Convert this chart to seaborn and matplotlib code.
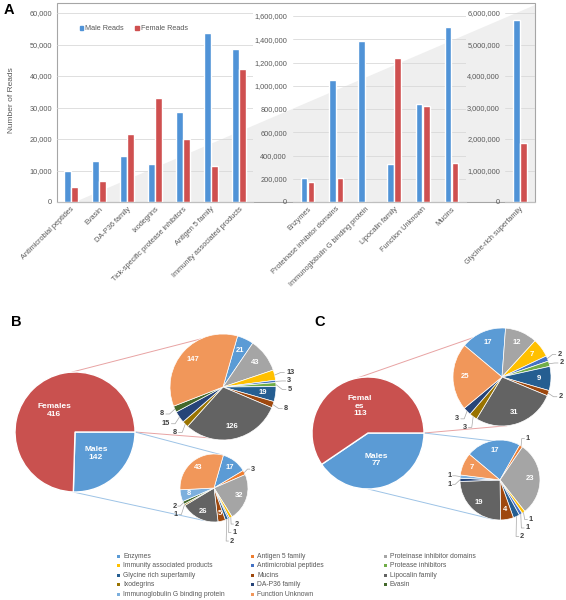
import numpy as np
import pandas as pd
import seaborn as sns
import matplotlib.pyplot as plt
from matplotlib.patches import Polygon, Rectangle, Patch
from matplotlib.ticker import FuncFormatter

sns.set_theme(style="white")
plt.rcParams['font.family'] = ['Liberation Sans', 'DejaVu Sans']

# ---- panel A data (reads) ----
g1_cats = ['Antimicrobial peptides', 'Evasin', 'DA-P36 family', 'Ixodegrins',
           'Tick-specific protease inhibitors', 'Antigen 5 family', 'Immunity associated products']
g1_male = [10000, 13000, 14600, 12200, 28600, 53800, 48600]
g1_female = [4700, 6700, 21600, 32900, 20000, 11400, 42200]

g2_cats = ['Enzymes', 'Proteinase inhibitor domains', 'Immunoglobulin G binding protein',
           'Lipocalin family', 'Function Unknown', 'Mucins']
g2_male = [206000, 1047000, 1382000, 329000, 844000, 1502000]
g2_female = [175000, 206000, 0, 1242000, 827000, 335000]

g3_cats = ['Glycine-rich superfamily']
g3_male = [5770000]
g3_female = [1880000]

# ---- panels B / C data (contig counts) ----
families = ['Enzymes', 'Antigen 5 family', 'Proteinase inhibitor domains',
            'Immunity associated products', 'Antimicrobial peptides', 'Protease inhibitors',
            'Glycine rich superfamily', 'Mucins', 'Lipocalin family', 'Ixodegrins',
            'DA-P36 family', 'Evasin', 'Immunoglobulin G binding protein', 'Function Unknown']
family_colors = ['#5B9BD5', '#ED7D31', '#A5A5A5', '#FFC000', '#4472C4', '#70AD47',
                 '#255E91', '#9E480E', '#636363', '#997300', '#264478', '#43682B',
                 '#7CAFDD', '#F1975A']
b_female = [21, 0, 43, 13, 3, 5, 19, 8, 126, 8, 15, 8, 0, 147]
b_male = [17, 3, 32, 2, 1, 0, 2, 5, 26, 1, 0, 2, 8, 43]
c_female = [17, 0, 12, 7, 2, 2, 9, 2, 31, 3, 3, 0, 0, 25]
c_male = [17, 1, 23, 1, 1, 0, 2, 4, 19, 0, 1, 0, 1, 7]

male_col = '#5093D7'
female_col = '#CF5050'
big_male_col = '#5B9BD5'
big_female_col = '#C9514F'
txt_col = '#595959'

W, H = 566, 600
fig = plt.figure(figsize=(W / 100, H / 100), dpi=100)


def px_axes(x0, y0, x1, y1, z=1):
    ax = fig.add_axes([x0 / W, 1 - y1 / H, (x1 - x0) / W, (y1 - y0) / H])
    ax.set_zorder(z)
    return ax


ov = px_axes(0, 0, W, H, z=0)
ov.set_xlim(0, W)
ov.set_ylim(H, 0)
ov.axis('off')

# panel A background: frame + grey wedge
ov.add_patch(Polygon([(75, 202), (535, 5), (535, 202)], closed=True, color='#efefef', lw=0))
ov.add_patch(Rectangle((57, 3), 478, 199, fill=False, ec='#a6a6a6', lw=0.8))
ov.text(12, 100, 'Number of Reads', rotation=90, ha='center', va='center', fontsize=6, color=txt_col)


def bar_group(ax, cats, male, female, ymax, step, pad):
    df = pd.DataFrame({'category': cats * 2,
                       'sex': ['Male Reads'] * len(cats) + ['Female Reads'] * len(cats),
                       'reads': male + female})
    sns.barplot(data=df, x='category', y='reads', hue='sex', palette=[male_col, female_col],
                width=0.5, gap=0.1, saturation=1, ax=ax, legend=False)
    ax.set_facecolor('none')
    ax.set_xlim(-0.5, len(cats) - 0.5)
    ax.set_ylim(0, ymax)
    ax.set_yticks(np.arange(0, ymax + 1, step))
    ax.yaxis.set_major_formatter(FuncFormatter(lambda v, _: f'{int(v):,}'))
    ax.set_xlabel('')
    ax.set_ylabel('')
    ax.grid(axis='y', color='#d9d9d9', lw=0.6)
    ax.set_axisbelow(True)
    for s in ['left', 'right', 'top']:
        ax.spines[s].set_visible(False)
    ax.spines['bottom'].set_color('#bfbfbf')
    ax.spines['bottom'].set_linewidth(0.8)
    ax.tick_params(axis='both', length=0, labelsize=5.3, colors=txt_col)
    ax.tick_params(axis='y', pad=pad)
    ax.tick_params(axis='x', pad=2.5)
    ax.set_xticks(range(len(cats)))
    ax.set_xticklabels(cats, rotation=45, ha='right', va='top', rotation_mode='anchor')


ax1 = px_axes(57, 13, 253, 202)
bar_group(ax1, g1_cats, g1_male, g1_female, 60000, 10000, 3.6)
ax2 = px_axes(293, 16, 466, 202)
bar_group(ax2, g2_cats, g2_male, g2_female, 1600000, 200000, 4.3)
ax3 = px_axes(505, 13, 535, 202)
bar_group(ax3, g3_cats, g3_male, g3_female, 6000000, 1000000, 3.6)

ax1.legend([Patch(color=male_col), Patch(color=female_col)], ['Male Reads', 'Female Reads'],
           ncol=2, loc='center left', bbox_to_anchor=(73 / W, 1 - 29 / H),
           bbox_transform=fig.transFigure, frameon=False, fontsize=5.2,
           handlelength=0.5, handleheight=0.5, handletextpad=0.3, columnspacing=1.6,
           labelcolor=txt_col)


def on_circle(cx, cy, r, deg):
    a = np.deg2rad(deg)
    return cx + r * np.cos(a), cy - r * np.sin(a)


def big_pie(cx, cy, r, males, females, female_text):
    ax = px_axes(cx - r, cy - r, cx + r, cy + r, z=2)
    wedges, _ = ax.pie([males, females], colors=[big_male_col, big_female_col], startangle=0,
                       counterclock=False, wedgeprops=dict(edgecolor='white', linewidth=1))
    ax.set_xlim(-1, 1)
    ax.set_ylim(-1, 1)
    for w, t in zip(wedges, [f'Males\n{males}', f'{female_text}\n{females}']):
        a = np.deg2rad((w.theta1 + w.theta2) / 2)
        ax.text(0.5 * np.cos(a), 0.5 * np.sin(a), t, ha='center', va='center', color='white',
                fontsize=6, fontweight='bold', linespacing=1.1)


def small_pie(cx, cy, r, values, start, min_inside):
    ax = px_axes(cx - r, cy - r, cx + r, cy + r, z=2)
    keep = [i for i, v in enumerate(values) if v > 0]
    vals = [values[i] for i in keep]
    cols = [family_colors[i] for i in keep]
    wedges, _ = ax.pie(vals, colors=cols, startangle=90 - start, counterclock=False,
                       wedgeprops=dict(edgecolor='white', linewidth=0.5))
    ax.set_xlim(-1, 1)
    ax.set_ylim(-1, 1)
    outside = []
    for w, v in zip(wedges, vals):
        a = np.deg2rad((w.theta1 + w.theta2) / 2)
        if v >= min_inside:
            ax.text(0.76 * np.cos(a), 0.76 * np.sin(a), str(v), ha='center', va='center',
                    color='white', fontsize=5.5, fontweight='bold')
        else:
            outside.append((np.cos(a), np.sin(a), v))
    gap = 8.5 / r
    for side in (1, -1):
        items = sorted([o for o in outside if (o[0] >= 0) == (side > 0)], key=lambda o: -o[1])
        prev = None
        for x, y, v in items:
            lx, ly = 1.22 * x, 1.22 * y
            if prev is not None and ly > prev - gap:
                ly = prev - gap
            prev = ly
            ax.plot([x, lx - side * 0.1, lx - side * 0.03], [y, ly, ly], color='#a6a6a6',
                    lw=0.5, clip_on=False)
            ax.text(lx, ly, str(v), ha='left' if side > 0 else 'right', va='center',
                    color='#404040', fontsize=5.3, fontweight='bold')


# connectors (panel B)
for (big_deg, sx, sy, sr, s_deg, col) in [(93, 223, 387, 53, 115, '#E8A3A3'),
                                          (0, 223, 387, 53, -82, '#E8A3A3'),
                                          (0, 214, 488, 34, 76, '#9DC3E6'),
                                          (-92, 214, 488, 34, -107, '#9DC3E6')]:
    p0 = on_circle(75, 432, 60, big_deg)
    p1 = on_circle(sx, sy, sr, s_deg)
    ov.plot([p0[0], p1[0]], [p0[1], p1[1]], color=col, lw=0.7)
# connectors (panel C)
for (big_deg, sx, sy, sr, s_deg, col) in [(101, 502, 377, 49, 127, '#E8A3A3'),
                                          (0, 502, 377, 49, -84, '#E8A3A3'),
                                          (0, 500, 480, 40, 65, '#9DC3E6'),
                                          (-90, 500, 480, 40, -99, '#9DC3E6')]:
    p0 = on_circle(368, 433, 56, big_deg)
    p1 = on_circle(sx, sy, sr, s_deg)
    ov.plot([p0[0], p1[0]], [p0[1], p1[1]], color=col, lw=0.7)

big_pie(75, 432, 60, sum(b_male), sum(b_female), 'Females')
small_pie(223, 387, 53, b_female, 16, 16)
small_pie(214, 488, 34, b_male, 16, 4)
big_pie(368, 433, 56, sum(c_male), sum(c_female), 'Femal\nes')
small_pie(502, 377, 49, c_female, -50, 5)
small_pie(500, 480, 40, c_male, -50, 4)

# panel letters
for letter, x, y in [('A', 9, 10), ('B', 16, 322), ('C', 320, 322)]:
    ov.text(x, y, letter, ha='center', va='center', fontsize=10.5, fontweight='bold', color='black')

# family legend (3 columns, row-major)
col_x = [118, 252, 385]
for i, (name, c) in enumerate(zip(families, family_colors)):
    row, col = divmod(i, 3)
    y = 556 + row * 9.6
    ov.add_patch(Rectangle((col_x[col] - 1.5, y - 1.5), 3, 3, color=c, lw=0))
    ov.text(col_x[col] + 5, y, name, ha='left', va='center', fontsize=4.9, color=txt_col)

fig.savefig('out.png', dpi=100)
